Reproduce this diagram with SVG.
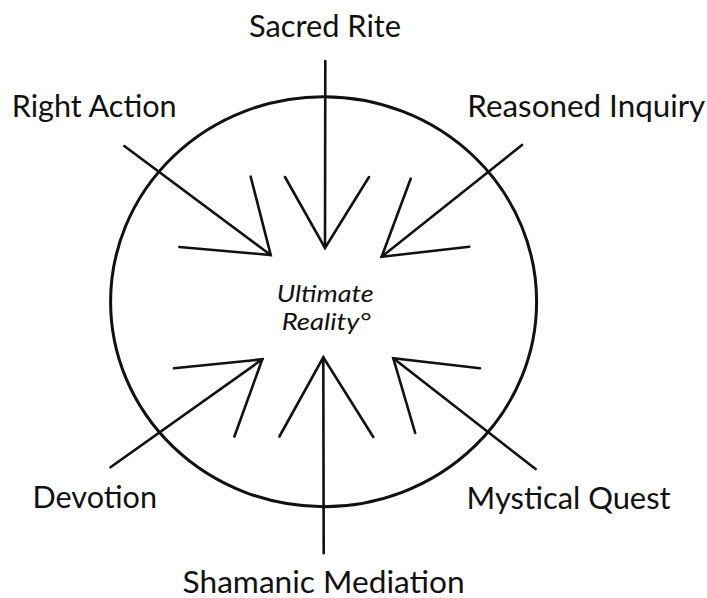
<svg xmlns="http://www.w3.org/2000/svg" width="707" height="598" viewBox="0 0 707 598">
<style>
.lbl{font-family:Lato,"Open Sans","Liberation Sans",sans-serif;font-size:30px;fill:#111}
.ctr{font-family:Lato,"Open Sans","Liberation Sans",sans-serif;font-size:23px;font-style:italic;fill:#111}
.ln{stroke:#111;stroke-width:2.6;fill:none;stroke-linecap:round;stroke-linejoin:miter}
</style>
<rect width="707" height="598" fill="#fff"/>
<g id="center">
<ellipse cx="323.6" cy="301.7" rx="213" ry="205" fill="none" stroke="#111" stroke-width="3"/>
<text class="ctr" x="276.7" y="301.7" textLength="97" lengthAdjust="spacingAndGlyphs">Ultimate</text>
<text class="ctr" x="281.7" y="330" textLength="89" lengthAdjust="spacingAndGlyphs">Reality°</text>
</g>
<g id="sacred-rite"><text class="lbl" x="249" y="37.3" textLength="152" lengthAdjust="spacingAndGlyphs">Sacred Rite</text></g>
<g id="right-action"><text class="lbl" x="11.7" y="117.3" textLength="165" lengthAdjust="spacingAndGlyphs">Right Action</text></g>
<g id="reasoned-inquiry"><text class="lbl" x="467.3" y="117.3" textLength="238" lengthAdjust="spacingAndGlyphs">Reasoned Inquiry</text></g>
<g id="devotion"><text class="lbl" x="32.5" y="508.3" textLength="124.5" lengthAdjust="spacingAndGlyphs">Devotion</text></g>
<g id="mystical-quest"><text class="lbl" x="466.6" y="509" textLength="204" lengthAdjust="spacingAndGlyphs">Mystical Quest</text></g>
<g id="shamanic-mediation"><text class="lbl" x="182.6" y="593" textLength="282" lengthAdjust="spacingAndGlyphs">Shamanic Mediation</text></g>
<g id="connectors">
<line class="ln" x1="325.3" y1="61" x2="325" y2="248"/>
<polyline class="ln" points="285,177 325,248 369,177"/>
<line class="ln" x1="124.3" y1="146" x2="270.7" y2="255"/>
<polyline class="ln" points="179.3,247 270.7,255 250.7,176.7"/>
<line class="ln" x1="522" y1="145" x2="381.7" y2="256.7"/>
<polyline class="ln" points="469.3,246.7 381.7,256.7 410.7,178.7"/>
<line class="ln" x1="110.5" y1="467.3" x2="262.3" y2="359.3"/>
<polyline class="ln" points="174,368.3 262.3,359.3 234.4,436.5"/>
<line class="ln" x1="323.7" y1="553.3" x2="323.3" y2="357.3"/>
<polyline class="ln" points="279.4,436.5 323.3,357.3 373.3,437"/>
<line class="ln" x1="535.6" y1="469" x2="393.3" y2="358.3"/>
<polyline class="ln" points="480,368.3 393.3,358.3 415.2,433"/>
</g>
</svg>
